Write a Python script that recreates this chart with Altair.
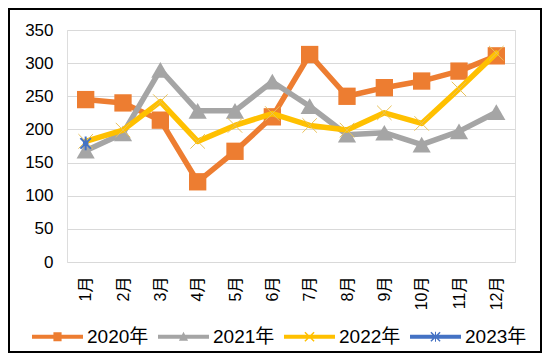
import altair as alt
import pandas as pd

months = ["1月", "2月", "3月", "4月", "5月", "6月", "7月", "8月", "9月", "10月", "11月", "12月"]
series = ["2020年", "2021年", "2022年", "2023年"]
v2020 = [245, 240, 214, 121, 167, 219, 313, 250, 263, 273, 288, 311]
v2021 = [168, 194, 290, 228, 228, 272, 235, 192, 195, 177, 197, 226]
v2022 = [182, 199, 242, 182, 206, 224, 206, 199, 225, 209, 261, 315]
v2023 = [179, None, None, None, None, None, None, None, None, None, None, None]
colors = ["#ED7D31", "#A5A5A5", "#FFC000", "#4472C4"]
y_ticks = [0, 50, 100, 150, 200, 250, 300, 350]

rows = []
for s, vals in zip(series, [v2020, v2021, v2022, v2023]):
    for m, v in zip(months, vals):
        if v is not None:
            rows.append({"month": m, "series": s, "value": v})
df = pd.DataFrame(rows)

FONT = "Liberation Sans, Noto Sans CJK SC, sans-serif"
W, H = 448, 232

sym_line = "M-1,-0.08H1V0.08H-1Z"
sym_paths = {
    "2020年": sym_line + "M-0.16,-0.18H0.16V0.18H-0.16Z",
    "2021年": sym_line + "M-0.18,0.16L0,-0.2L0.18,0.16Z",
    "2022年": sym_line + "M-0.2,-0.16L-0.16,-0.2L0.2,0.16L0.16,0.2ZM0.16,-0.2L0.2,-0.16L-0.16,0.2L-0.2,0.16Z",
    "2023年": sym_line + "M-0.2,-0.16L-0.16,-0.2L0.2,0.16L0.16,0.2ZM0.16,-0.2L0.2,-0.16L-0.16,0.2L-0.2,0.16ZM-0.02,-0.2H0.02V0.2H-0.02Z",
}
shape_expr = " : ".join(
    [f"datum.value === '{k}' ? '{p}'" for k, p in list(sym_paths.items())[:-1]]
) + f" : '{sym_paths['2023年']}'"

x_enc = alt.X(
    "month:N",
    sort=months,
    scale=alt.Scale(type="point", padding=0.5),
    axis=alt.Axis(
        title=None, labelAngle=270, labelFontSize=16, labelFont=FONT,
        labelColor="#000000", ticks=False, domain=False, grid=False,
        labelPadding=14,
    ),
)
y_enc = alt.Y(
    "value:Q",
    scale=alt.Scale(domain=[0, 350], nice=False, zero=True),
    axis=alt.Axis(
        title=None, values=y_ticks, labelFontSize=17, labelFont=FONT,
        labelColor="#000000", ticks=False, domain=False, grid=True,
        gridColor="#D9D9D9", gridWidth=1, labelPadding=14,
    ),
)
color_enc = alt.Color(
    "series:N",
    scale=alt.Scale(domain=series, range=colors),
    legend=alt.Legend(
        orient="none", legendX=-35, legendY=281, direction="horizontal",
        title=None, symbolSize=2601, labelFontSize=19, labelFont=FONT,
        labelColor="#000000", labelOffset=4, columnPadding=9,
        symbolType=alt.ExprRef(shape_expr),
        symbolStrokeWidth=0, symbolOpacity=1,
    ),
)

base = alt.Chart(df)
layers = []
border = alt.Chart(pd.DataFrame({"a": [0]})).mark_rect(
    fill=None, stroke="#000000", strokeWidth=2
).encode(x=alt.value(-58), x2=alt.value(474), y=alt.value(-21), y2=alt.value(322))
layers.append(border)

# invisible layer that carries the legend
legend_layer = base.mark_point(filled=True, opacity=0).encode(x=x_enc, y=y_enc, color=color_enc)
layers.append(legend_layer)

marker_specs = {
    "2020年": dict(shape="square", filled=True, size=300, color=colors[0], opacity=1),
    "2021年": dict(shape="triangle-up", filled=True, size=330, color=colors[1], opacity=1),
    "2022年": dict(shape="M-1,-1L1,1M-1,1L1,-1", filled=False, size=210, stroke="#E9C25A",
                  strokeWidth=1, opacity=1),
    "2023年": dict(shape="M-1,-1L1,1M-1,1L1,-1M0,-1.3L0,1.3", filled=False, size=110,
                  stroke=colors[3], strokeWidth=2, opacity=1),
}

for s, c in zip(series, colors):
    sub = base.transform_filter(alt.datum.series == s)
    line = sub.mark_line(strokeWidth=5.5, strokeJoin="round", strokeCap="round", color=c).encode(
        x=x_enc, y=y_enc
    )
    pts = sub.mark_point(**marker_specs[s]).encode(x=x_enc, y=y_enc)
    layers += [line, pts]

chart = alt.layer(*layers).properties(
    width=W, height=H,
    autosize=alt.AutoSizeParams(type="none"),
    padding={"left": 59, "top": 22, "right": 27, "bottom": 91},
).configure_view(stroke=None).configure(background="#FFFFFF")

chart.save("out.html", embed_options={"renderer": "svg", "actions": False})
